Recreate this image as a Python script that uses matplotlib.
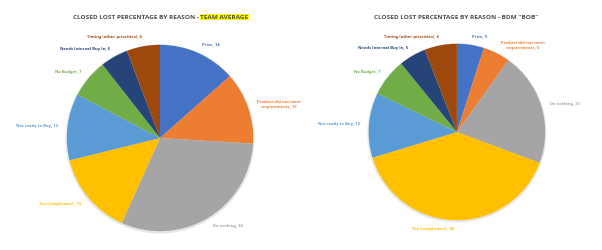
import matplotlib
matplotlib.use("Agg")
import matplotlib.pyplot as plt
from matplotlib.patches import Circle

categories = ["Price", "Product did not meet\nrequirements", "Do nothing", "Too Complicated ",
              "Not ready to Buy", "No Budget", "Needs Internal Buy In", "Timing (other priorities)"]
team_values = [14, 13, 32, 15, 12, 7, 5, 6]
bob_values = [5, 5, 21, 40, 12, 7, 5, 6]
colors = ["#4472C4", "#ED7D31", "#A5A5A5", "#FFC000", "#5B9BD5", "#70AD47", "#264478", "#9E480E"]
title_main = "CLOSED LOST PERCENTAGE BY REASON - "
left_highlight = "TEAM AVERAGE"
right_suffix = 'BDM "BOB"'

plt.rcParams['font.family'] = ['Open Sans', 'DejaVu Sans']

fig = plt.figure(figsize=(6.02, 2.5), dpi=100)
fig.patch.set_facecolor("white")

def draw_pie(rect, values):
    ax = fig.add_axes(rect)
    ax.add_patch(Circle((0.0, -0.01), 1.015, facecolor='#E6E6E6', edgecolor='none', zorder=0))
    labels = [f"{c}, {v}" for c, v in zip(categories, values)]
    wedges, texts = ax.pie(values, colors=colors, startangle=90, counterclock=False,
                           labels=labels, labeldistance=1.1,
                           wedgeprops=dict(linewidth=0, zorder=1),
                           textprops=dict(fontsize=3.0, fontweight='bold'))
    for t, c in zip(texts, colors):
        t.set_color(c)
        t.set_multialignment('center')
    ax.set_xlim(-1.03, 1.03)
    ax.set_ylim(-1.03, 1.03)
    ax.set_aspect('equal')
    ax.axis('off')
    return ax

draw_pie([0.1063, 0.064, 0.319, 0.768], team_values)
draw_pie([0.608, 0.108, 0.302, 0.728], bob_values)

tcolor = "#4D4D4D"
ty = 1 - 17 / 250
t1 = fig.text(73 / 602, ty, title_main, fontsize=4.6, fontweight='bold',
              color=tcolor, ha='left', va='center')
fig.canvas.draw()
bb = t1.get_window_extent()
fig.text(bb.x1 / fig.bbox.width, ty, left_highlight, fontsize=4.6, fontweight='bold',
         color=tcolor, ha='left', va='center',
         bbox=dict(boxstyle='square,pad=0.1', facecolor='#FFFF00', edgecolor='none'))

fig.text(374 / 602, ty, title_main + right_suffix, fontsize=4.6, fontweight='bold',
         color=tcolor, ha='left', va='center')

fig.savefig("out.png", dpi=100)
